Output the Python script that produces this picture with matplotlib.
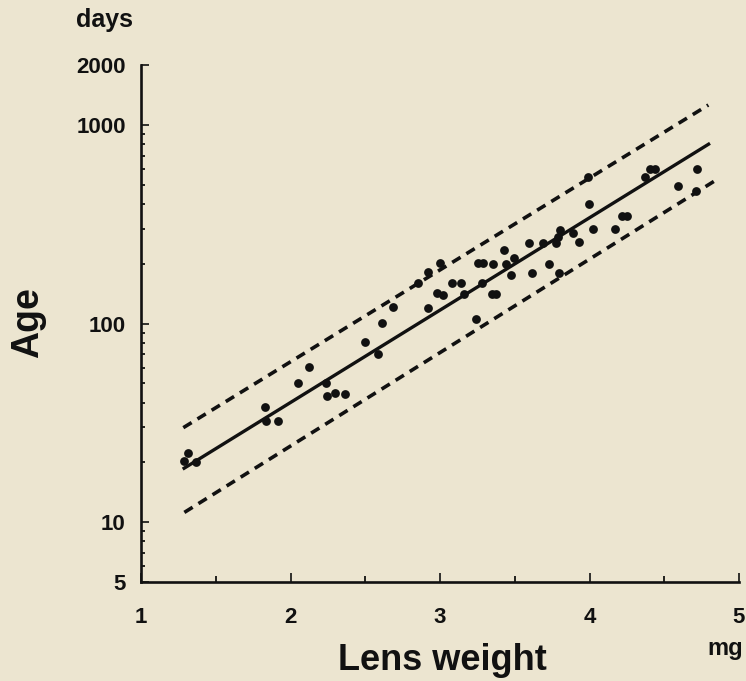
import matplotlib
matplotlib.use("Agg")
import matplotlib.pyplot as plt
from matplotlib.ticker import FixedLocator, NullFormatter, FixedFormatter

# ---- data ----
lens_weight = [1.316, 1.288, 1.368, 1.829, 1.836, 1.914, 2.052, 2.126, 2.235, 2.246,
               2.296, 2.365, 2.498, 2.587, 2.610, 2.688, 2.922, 2.851, 2.922, 3.000,
               2.982, 3.018, 3.078, 3.138, 3.161, 3.239, 3.279, 3.256, 3.290, 3.357,
               3.350, 3.375, 3.428, 3.441, 3.475, 3.497, 3.595, 3.617, 3.691, 3.731,
               3.796, 3.776, 3.803, 3.791, 3.892, 3.932, 3.992, 3.997, 4.021, 4.171,
               4.215, 4.249, 4.371, 4.405, 4.438, 4.594, 4.717, 4.710]
age_days = [22.2, 20.3, 20.2, 38.1, 32.4, 32.4, 50.4, 60.6, 50.4, 43.3,
            44.6, 44.2, 80.4, 70.2, 100.2, 120.6, 120.1, 160.4, 181.6, 200.9,
            141.9, 139.1, 159.3, 159.3, 140.3, 105.0, 159.3, 200.9, 200.9, 199.3,
            140.3, 140.3, 234.4, 199.3, 175.4, 212.9, 255.0, 180.1, 255.0, 199.3,
            180.1, 253.3, 295.4, 273.5, 284.5, 256.2, 544.0, 398.0, 298.8, 298.8,
            348.7, 348.7, 544.0, 597.0, 597.0, 494.0, 597.0, 466.0]

fit_x = [1.279, 4.806]
fit_y = [18.5, 807.0]
upper_x = [1.283, 4.795]
upper_y = [29.9, 1258.0]
lower_x = [1.290, 4.839]
lower_y = [11.2, 523.0]

x_ticks = [1, 2, 3, 4, 5]
x_minor = [1.5, 2.5, 3.5, 4.5]
y_ticks = [5, 10, 100, 1000, 2000]
y_tick_labels = ["5", "10", "100", "1000", "2000"]
y_minor = [6, 7, 8, 9, 20, 30, 40, 50, 60, 70, 80, 90,
           200, 300, 400, 500, 600, 700, 800, 900]

# ---- style ----
BG = "#ece5d0"
INK = "#111111"
FONT = "Liberation Sans"

W, H = 746, 681
fig = plt.figure(figsize=(W / 100, H / 100), dpi=100, facecolor=BG)
ax = fig.add_axes([141 / W, 99 / H, 598 / W, 517 / H], facecolor=BG)

ax.set_yscale("log")
ax.set_xlim(1, 5)
ax.set_ylim(5, 2000)

ax.scatter(lens_weight, age_days, s=40, color=INK, zorder=3, linewidths=0)
ax.plot(fit_x, fit_y, color=INK, lw=2.4, solid_capstyle="butt")
ax.plot(upper_x, upper_y, color=INK, lw=2.6, dashes=(2.7, 1.9))
ax.plot(lower_x, lower_y, color=INK, lw=2.6, dashes=(2.7, 1.9))

for s in ("top", "right"):
    ax.spines[s].set_visible(False)
for s in ("left", "bottom"):
    ax.spines[s].set_linewidth(1.9)
    ax.spines[s].set_color(INK)

ax.xaxis.set_major_locator(FixedLocator(x_ticks))
ax.xaxis.set_minor_locator(FixedLocator(x_minor))
ax.xaxis.set_minor_formatter(NullFormatter())
ax.set_xticklabels([str(v) for v in x_ticks])

ax.yaxis.set_major_locator(FixedLocator(y_ticks))
ax.yaxis.set_major_formatter(FixedFormatter(y_tick_labels))
ax.yaxis.set_minor_locator(FixedLocator(y_minor))
ax.yaxis.set_minor_formatter(NullFormatter())

ax.tick_params(axis="x", which="major", direction="in", length=6.5, width=1.2,
               pad=18, colors=INK)
ax.tick_params(axis="x", which="minor", direction="in", length=4, width=1.2)
ax.tick_params(axis="y", which="major", direction="in", length=5.5, width=1.2,
               pad=11, colors=INK)
ax.tick_params(axis="y", which="minor", direction="in", length=3, width=1.2)

for lab in ax.get_xticklabels() + ax.get_yticklabels():
    lab.set_fontfamily(FONT)
    lab.set_fontweight("bold")
    lab.set_fontsize(16)

fig.text(104 / W, 1 - 20 / H, "days", ha="center", va="center",
         fontfamily=FONT, fontweight="bold", fontsize=18, color=INK)
fig.text(28 / W, 1 - 323 / H, "Age", ha="center", va="center", rotation=90,
         fontfamily=FONT, fontweight="bold", fontsize=27, color=INK)
fig.text(442 / W, 1 - 660 / H, "Lens weight", ha="center", va="center",
         fontfamily=FONT, fontweight="bold", fontsize=26, color=INK)
fig.text(725 / W, 1 - 649 / H, "mg", ha="center", va="center",
         fontfamily=FONT, fontweight="bold", fontsize=17, color=INK)

fig.savefig("out.png", dpi=100, facecolor=BG)
